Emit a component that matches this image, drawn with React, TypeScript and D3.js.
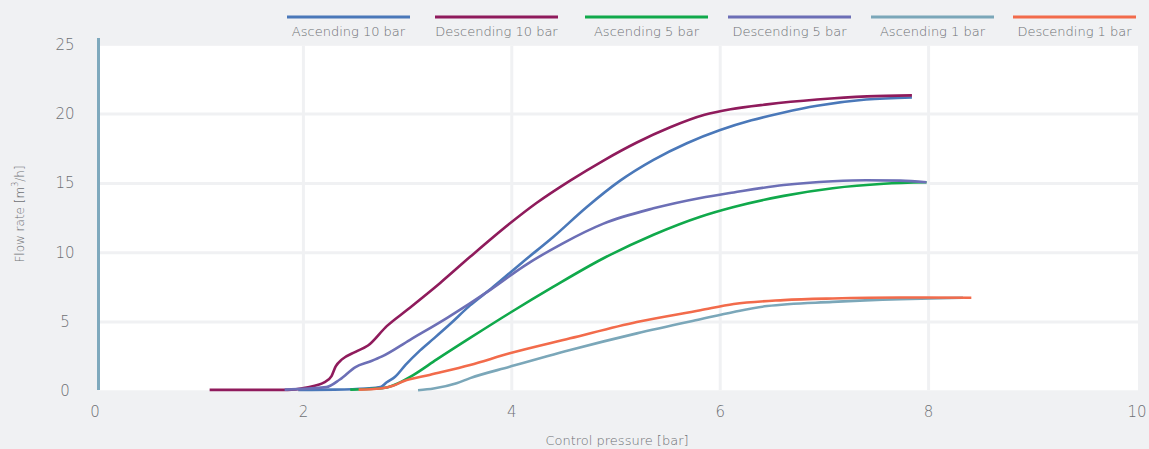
import React from "react";
import * as d3 from "d3";

const W = 1149;
const H = 449;

const xTicks = [0, 2, 4, 6, 8, 10];
const yTicks = [0, 5, 10, 15, 20, 25];

const seriesNames = [
  "Ascending 10 bar",
  "Descending 10 bar",
  "Ascending 5 bar",
  "Descending 5 bar",
  "Ascending 1 bar",
  "Descending 1 bar",
];
const seriesColors = ["#4a78b9", "#8f1b5c", "#10a94b", "#6c6fb6", "#7ba7b9", "#f26b4b"];

// [pressure bar, flow m3/h]
const asc10: [number, number][] = [
  [1.95, 0.1], [2.3, 0.12], [2.6, 0.2], [2.74, 0.3], [2.8, 0.65], [2.88, 1.05],
  [2.98, 1.9], [3.12, 2.95], [3.25, 3.8], [3.4, 4.8], [3.6, 6.2], [3.8, 7.4],
  [4.1, 9.3], [4.4, 11.15], [4.72, 13.3], [5.04, 15.2], [5.36, 16.7], [5.68, 17.9],
  [6.0, 18.85], [6.3, 19.55], [6.6, 20.1], [6.93, 20.6], [7.4, 21.05], [7.84, 21.2],
];
const desc10: [number, number][] = [
  [1.1, 0.1], [1.85, 0.1], [2.03, 0.28], [2.2, 0.65], [2.27, 1.1], [2.31, 1.8],
  [2.37, 2.3], [2.5, 2.85], [2.62, 3.3], [2.8, 4.7], [3.0, 5.9], [3.31, 7.8],
  [3.6, 9.7], [3.98, 12.1], [4.24, 13.6], [4.56, 15.2], [4.88, 16.65], [5.2, 17.95],
  [5.52, 19.05], [5.85, 19.95], [6.1, 20.35], [6.45, 20.7], [6.93, 21.05], [7.41, 21.28],
  [7.84, 21.35],
];
const asc5: [number, number][] = [
  [2.45, 0.12], [2.67, 0.18], [2.8, 0.28], [2.9, 0.55], [3.05, 1.15], [3.28, 2.3],
  [3.6, 3.85], [3.98, 5.65], [4.4, 7.55], [4.88, 9.6], [5.36, 11.3], [5.81, 12.6],
  [6.13, 13.3], [6.61, 14.1], [7.08, 14.65], [7.57, 14.97], [7.98, 15.08],
];
const desc5: [number, number][] = [
  [1.82, 0.12], [2.22, 0.3], [2.35, 0.85], [2.5, 1.75], [2.64, 2.15], [2.75, 2.5],
  [3.02, 3.7], [3.38, 5.3], [3.79, 7.3], [4.11, 9.0], [4.49, 10.68], [4.88, 12.1],
  [5.36, 13.2], [5.81, 13.95], [6.13, 14.35], [6.61, 14.88], [7.08, 15.15], [7.4, 15.23],
  [7.73, 15.2], [7.98, 15.08],
];
const asc1: [number, number][] = [
  [3.1, 0.08], [3.25, 0.2], [3.47, 0.58], [3.6, 0.95], [3.98, 1.77], [4.56, 2.98],
  [5.2, 4.18], [5.81, 5.2], [6.13, 5.72], [6.45, 6.15], [7.08, 6.45], [7.73, 6.65],
  [8.33, 6.75],
];
const desc1: [number, number][] = [
  [2.53, 0.12], [2.74, 0.2], [2.86, 0.4], [2.96, 0.72], [3.21, 1.18], [3.6, 1.9],
  [3.98, 2.74], [4.56, 3.82], [5.2, 5.0], [5.81, 5.85], [6.13, 6.3], [6.61, 6.58],
  [7.08, 6.7], [7.73, 6.77], [8.41, 6.75],
];

const seriesData = [asc10, desc10, asc5, desc5, asc1, desc1];

const legendX = [287, 435, 585, 728, 871, 1013];

const FONT = "'DejaVu Sans', 'Open Sans', sans-serif";
const TEXT = "#6e7073";
const BG = "#f0f1f3";

export default function App() {
  const x = d3.scaleLinear().domain([0, 10]).range([95, 1137]);
  const y = d3.scaleLinear().domain([0, 25]).range([391.3, 44.8]);
  const line = d3
    .line<[number, number]>()
    .x((d) => x(d[0]))
    .y((d) => y(d[1]))
    .curve(d3.curveMonotoneX);

  const plotL = x(0) + 4;
  const plotR = x(10) + 1;
  const plotT = y(25) + 1;
  const plotB = y(0) - 1;

  return (
    <svg
      width={W}
      height={H}
      style={{ position: "absolute", left: 0, top: 0, display: "block" }}
      fontFamily={FONT}
    >
      <rect x={0} y={0} width={W} height={H} fill={BG} />
      <rect x={plotL} y={plotT} width={plotR - plotL} height={plotB - plotT} fill="#ffffff" />
      {xTicks.slice(1, -1).map((t) => (
        <line key={"gx" + t} x1={x(t)} x2={x(t)} y1={plotT} y2={plotB} stroke={BG} strokeWidth={3} />
      ))}
      {yTicks.slice(1, -1).map((t) => (
        <line key={"gy" + t} x1={plotL} x2={plotR} y1={y(t)} y2={y(t)} stroke={BG} strokeWidth={3} />
      ))}
      <clipPath id="plotclip">
        <rect x={plotL} y={plotT - 5} width={plotR - plotL + 10} height={plotB - plotT + 8} />
      </clipPath>
      <g clipPath="url(#plotclip)">
        {seriesData.map((s, i) => (
          <path
            key={seriesNames[i]}
            d={line(s) || ""}
            fill="none"
            stroke={seriesColors[i]}
            strokeWidth={2.6}
            strokeLinejoin="round"
            strokeLinecap="butt"
          />
        ))}
      </g>
      <line x1={98.5} x2={98.5} y1={38} y2={390} stroke="#7fa9bd" strokeWidth={3} />
      {yTicks.map((t) => (
        <text
          key={"yt" + t}
          x={65}
          y={y(t)}
          textAnchor="middle"
          dominantBaseline="central"
          fontSize={15}
          fontWeight={200}
          fill={TEXT}
        >
          {t}
        </text>
      ))}
      {xTicks.map((t) => (
        <text
          key={"xt" + t}
          x={x(t)}
          y={412}
          textAnchor="middle"
          dominantBaseline="central"
          fontSize={15}
          fontWeight={200}
          fill={TEXT}
        >
          {t}
        </text>
      ))}
      <text x={617} y={440} textAnchor="middle" dominantBaseline="central" fontSize={13} fontWeight={200} fill={TEXT}>
        Control pressure [bar]
      </text>
      <text
        transform={`translate(20,214) rotate(-90)`}
        textAnchor="middle"
        dominantBaseline="central"
        fontSize={12}
        fontWeight={200}
        fill={TEXT}
      >
        Flow rate [m
        <tspan dy={-5} fontSize={8}>3</tspan>
        <tspan dy={5}>/h]</tspan>
      </text>
      {seriesNames.map((n, i) => (
        <g key={"lg" + n}>
          <line x1={legendX[i]} x2={legendX[i] + 123} y1={17} y2={17} stroke={seriesColors[i]} strokeWidth={3} />
          <text
            x={legendX[i] + 61.5}
            y={31}
            textAnchor="middle"
            dominantBaseline="central"
            fontSize={13}
            fontWeight={200}
            fill={TEXT}
          >
            {n}
          </text>
        </g>
      ))}
    </svg>
  );
}
